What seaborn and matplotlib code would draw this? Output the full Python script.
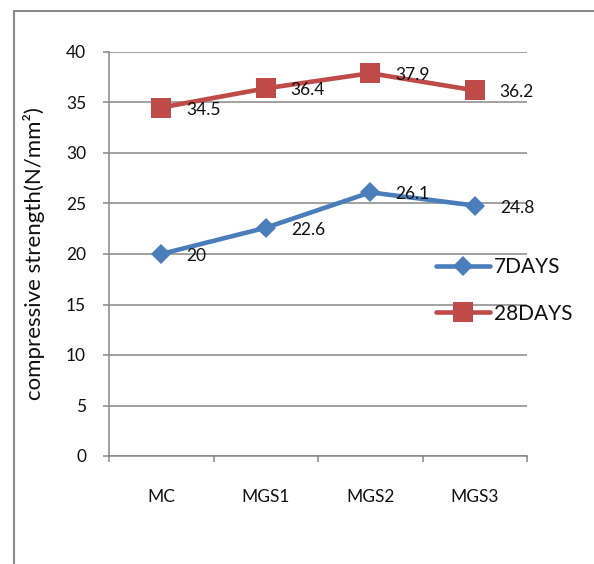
import matplotlib
matplotlib.use("Agg")
import matplotlib.pyplot as plt
from matplotlib.patches import Rectangle
import seaborn as sns
import pandas as pd

# Mix designations and compressive strengths (N/mm²)
mixes = ["MC", "MGS1", "MGS2", "MGS3"]
strength_7days = [20, 22.6, 26.1, 24.8]
strength_28days = [34.5, 36.4, 37.9, 36.2]
y_ticks = [0, 5, 10, 15, 20, 25, 30, 35, 40]

df7 = pd.DataFrame({"mix": mixes, "strength": strength_7days})
df28 = pd.DataFrame({"mix": mixes, "strength": strength_28days})

sns.set_style("white")
plt.rcParams["font.family"] = ["Lato", "DejaVu Sans"]

BLUE = "#4A7EBB"
RED = "#BE4B48"
GRID = "#878787"

fig = plt.figure(figsize=(5.94, 5.64), dpi=100)
W, H = 594, 564
ax = fig.add_axes([109 / W, 1 - 456 / H, (527 - 109) / W, (456 - 52) / H])

sns.lineplot(data=df7, x="mix", y="strength", ax=ax, color=BLUE, linewidth=3.3,
             marker="D", markersize=9.8, markeredgecolor=BLUE, markeredgewidth=0,
             label="7DAYS", sort=False)
sns.lineplot(data=df28, x="mix", y="strength", ax=ax, color=RED, linewidth=3.3,
             marker="s", markersize=14, markeredgecolor=RED, markeredgewidth=0,
             label="28DAYS", sort=False)

# value labels to the right of each point
for series in (strength_7days, strength_28days):
    for i, v in enumerate(series):
        ax.annotate(f"{v:g}", xy=(i, v), xytext=(25, -2), textcoords="offset pixels",
                    ha="left", va="center", fontsize=12.5, color="#111111")

ax.set_xlim(-0.5, len(mixes) - 0.5)
ax.set_ylim(0, 40)
ax.set_yticks(y_ticks)
ax.set_xticks(range(len(mixes)))
ax.set_xticklabels(mixes)
ax.set_xticks([i - 0.5 for i in range(len(mixes) + 1)], minor=True)

ax.grid(axis="y", color=GRID, linewidth=1.1)
ax.grid(axis="x", visible=False)
ax.set_axisbelow(True)

for side in ("top", "right"):
    ax.spines[side].set_visible(False)
for side in ("left", "bottom"):
    ax.spines[side].set_color(GRID)
    ax.spines[side].set_linewidth(1.1)

ax.tick_params(axis="y", which="major", length=4.5, width=1.1, color=GRID,
               direction="out", left=True, pad=12, labelsize=12.5, labelcolor="#111111")
ax.tick_params(axis="x", which="major", length=0, pad=24, labelsize=12.5,
               labelcolor="#111111")
ax.tick_params(axis="x", which="minor", length=4, width=1.1, color=GRID,
               direction="out", bottom=True)

ax.set_xlabel("")
ax.set_ylabel("compressive strength(N/mm²)", fontsize=16, color="#111111")
ax.yaxis.set_label_coords(-0.152, 0.5)

leg = ax.legend(loc="center left", bbox_to_anchor=(436 / W, 1 - 290.5 / H),
                bbox_transform=fig.transFigure, frameon=False, fontsize=15,
                handlelength=2.6, handletextpad=0.2, labelspacing=1.25,
                borderpad=0, borderaxespad=0)
for t in leg.get_texts():
    t.set_color("#111111")

# outer chart frame
fig.patches.append(Rectangle((14 / W, -0.1), 1.2, 1 - 11 / H + 0.1,
                             transform=fig.transFigure, fill=False,
                             edgecolor="#8A8A8A", linewidth=1.5))

fig.savefig("out.png", dpi=100)
